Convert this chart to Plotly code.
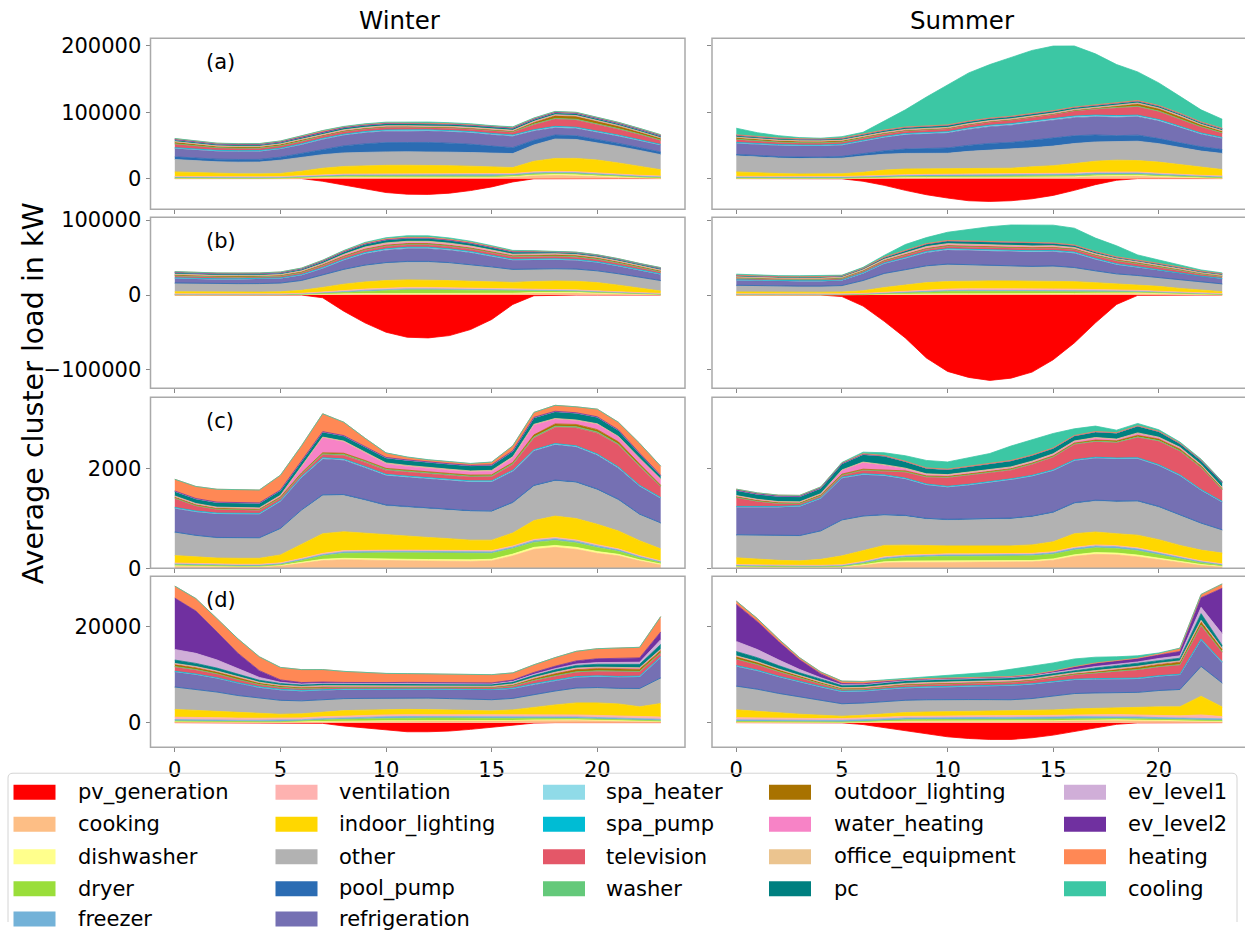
import plotly.graph_objects as go

# ---------------------------------------------------------------- data
HOURS = list(range(24))

SERIES = [
    "pv_generation", "cooking", "dishwasher", "dryer", "freezer",
    "ventilation", "indoor_lighting", "other", "pool_pump", "refrigeration",
    "spa_heater", "spa_pump", "television", "washer",
    "outdoor_lighting", "water_heating", "office_equipment", "pc",
    "ev_level1", "ev_level2", "heating", "cooling",
]

COLORS = {
    "pv_generation": "#ff0000", "cooking": "#fdbe85", "dishwasher": "#ffff8c",
    "dryer": "#9ade3a", "freezer": "#73b2d8", "ventilation": "#feb2b0",
    "indoor_lighting": "#ffd700", "other": "#b2b2b2", "pool_pump": "#2b6cb3",
    "refrigeration": "#7570b3", "spa_heater": "#90dbe8", "spa_pump": "#00bcd4",
    "television": "#e45768", "washer": "#64c97a", "outdoor_lighting": "#a87200",
    "water_heating": "#f783c6", "office_equipment": "#ebc48f", "pc": "#008080",
    "ev_level1": "#d0aed8", "ev_level2": "#7030a0", "heating": "#ff8855",
    "cooling": "#3cc7a4",
}

# cluster (a), winter
A_W = {
    "pv_generation": [0, 0, 0, 0, 0, 0, 0, -4000, -10000, -16000, -21000, -23500, -23800, -22000, -18000, -12500, -5000, -300, 0, 0, 0, 0, 0, 0],
    "cooking": [400, 300, 300, 300, 300, 400, 1000, 1800, 1800, 1600, 1500, 1600, 1700, 1600, 1500, 1600, 2500, 4500, 5000, 4500, 3000, 1800, 1000, 600],
    "dishwasher": [300, 200, 200, 150, 150, 150, 300, 600, 800, 700, 600, 600, 600, 600, 500, 500, 600, 900, 1200, 1400, 1300, 1000, 700, 400],
    "dryer": [300, 200, 100, 100, 100, 200, 500, 1000, 1500, 1800, 1900, 1900, 1900, 1800, 1700, 1600, 1600, 1700, 1700, 1600, 1400, 1100, 800, 500],
    "freezer": [1500, 1450, 1400, 1400, 1400, 1450, 1500, 1550, 1600, 1650, 1700, 1700, 1700, 1700, 1700, 1700, 1700, 1700, 1700, 1700, 1650, 1600, 1550, 1500],
    "ventilation": [800, 800, 800, 800, 800, 800, 900, 1000, 1100, 1200, 1300, 1300, 1300, 1300, 1300, 1300, 1300, 1400, 1400, 1300, 1200, 1100, 1000, 900],
    "indoor_lighting": [6800, 6000, 5000, 4600, 4400, 4800, 7000, 9700, 11500, 12500, 13000, 13000, 13000, 12500, 12000, 10500, 9000, 16000, 19400, 20000, 19500, 17000, 13500, 9500],
    "other": [18700, 18000, 17500, 17500, 17800, 20000, 20500, 20500, 20500, 20400, 20300, 20300, 20300, 20400, 20600, 20800, 21000, 24600, 29300, 28500, 26000, 25000, 24000, 22700],
    "pool_pump": [4000, 4000, 4000, 4000, 4000, 4500, 6000, 8000, 10500, 12500, 14000, 14000, 14000, 13500, 12500, 11000, 9000, 7000, 6000, 5500, 5000, 4500, 4000, 4000],
    "refrigeration": [12600, 12300, 12000, 12000, 12000, 12300, 13500, 15000, 16000, 16800, 17200, 17200, 17200, 17200, 17200, 17200, 17200, 14000, 11100, 11000, 11000, 10800, 10500, 10100],
    "spa_heater": [1000, 1000, 1000, 1000, 1000, 1000, 1100, 1200, 1300, 1400, 1500, 1500, 1500, 1500, 1500, 1500, 1500, 1500, 1500, 1500, 1400, 1300, 1200, 1100],
    "spa_pump": [300, 300, 300, 300, 300, 300, 300, 350, 400, 400, 400, 400, 400, 400, 400, 400, 400, 450, 500, 500, 450, 400, 350, 300],
    "television": [5500, 4500, 3800, 3500, 3500, 3500, 3500, 3500, 3500, 3500, 3500, 3500, 3500, 3600, 3700, 3800, 4000, 7500, 11000, 11000, 10000, 9000, 8000, 6000],
    "washer": [400, 300, 300, 300, 300, 300, 500, 800, 1000, 1000, 1000, 1000, 900, 900, 900, 900, 900, 1000, 1000, 1000, 900, 800, 600, 500],
    "outdoor_lighting": [2500, 2300, 2000, 2000, 2000, 2000, 1800, 1000, 500, 400, 400, 400, 400, 400, 400, 500, 800, 2500, 4000, 4000, 3800, 3500, 3000, 2700],
    "water_heating": [600, 500, 500, 500, 500, 600, 900, 1200, 1100, 1000, 900, 900, 900, 900, 900, 900, 1000, 1200, 1300, 1300, 1200, 1000, 800, 700],
    "office_equipment": [200, 200, 200, 200, 200, 200, 300, 400, 500, 500, 500, 500, 500, 500, 500, 500, 400, 400, 300, 300, 300, 300, 200, 200],
    "pc": [2500, 2400, 2400, 2400, 2400, 2400, 2500, 2700, 3000, 3100, 3200, 3200, 3200, 3200, 3100, 3000, 3000, 2900, 2800, 2800, 2700, 2600, 2500, 2500],
    "ev_level1": [300, 300, 200, 200, 200, 200, 200, 200, 200, 200, 200, 200, 200, 200, 200, 200, 200, 300, 300, 300, 300, 300, 300, 300],
    "ev_level2": [300, 250, 200, 200, 200, 200, 200, 200, 200, 200, 200, 200, 200, 200, 200, 200, 200, 250, 300, 300, 300, 300, 300, 300],
    "heating": [1200, 1000, 1000, 1000, 1000, 1200, 1500, 1500, 1200, 1000, 800, 700, 700, 700, 700, 800, 1000, 1200, 1200, 1200, 1200, 1200, 1200, 1200],
    "cooling": [300, 300, 300, 300, 300, 300, 300, 300, 500, 800, 1000, 1200, 1200, 1200, 1200, 1000, 800, 500, 300, 300, 300, 300, 300, 300],
}

# cluster (a), summer
A_S = {
    "pv_generation": [0, 0, 0, 0, 0, -300, -4000, -10100, -17700, -24300, -29300, -33400, -34400, -33400, -30400, -25300, -17700, -9100, -2500, 0, 0, 0, 0, 0],
    "cooking": [400, 300, 300, 300, 300, 400, 800, 1200, 1200, 1200, 1200, 1300, 1300, 1300, 1300, 1500, 2200, 3500, 4200, 3800, 2500, 1500, 900, 600],
    "dishwasher": [300, 200, 200, 150, 150, 150, 250, 500, 600, 600, 600, 600, 600, 600, 600, 600, 700, 900, 1100, 1300, 1200, 900, 600, 400],
    "dryer": [200, 150, 100, 100, 100, 150, 400, 800, 1200, 1400, 1500, 1500, 1500, 1500, 1500, 1500, 1500, 1500, 1400, 1300, 1100, 900, 600, 400],
    "freezer": [1800, 1800, 1750, 1750, 1750, 1750, 1800, 1900, 2000, 2100, 2200, 2300, 2300, 2400, 2400, 2400, 2400, 2400, 2300, 2300, 2200, 2100, 2000, 1900],
    "ventilation": [700, 700, 700, 700, 700, 700, 800, 900, 1000, 1100, 1200, 1300, 1400, 1400, 1500, 1500, 1500, 1500, 1400, 1300, 1200, 1000, 900, 800],
    "indoor_lighting": [6700, 5500, 4500, 4000, 3900, 4200, 5500, 7500, 8500, 8500, 8300, 8100, 8100, 8500, 10500, 12000, 14300, 16500, 17400, 17200, 16700, 14500, 12000, 9600],
    "other": [24300, 23800, 23500, 23200, 23200, 23500, 24500, 24000, 23500, 23200, 23200, 26000, 27800, 28300, 28800, 29500, 30300, 29000, 27900, 29200, 27800, 26000, 24500, 24300],
    "pool_pump": [2000, 2000, 2100, 2200, 2200, 2500, 3500, 5000, 6500, 7000, 8000, 9000, 10000, 10500, 11000, 11500, 11700, 10500, 9000, 9100, 7600, 7000, 6500, 5800],
    "refrigeration": [16700, 16700, 16700, 16700, 16700, 17000, 19000, 20000, 21500, 22000, 22500, 24000, 25300, 26000, 26500, 27000, 27300, 27500, 27800, 27800, 26500, 23000, 19000, 16700],
    "spa_heater": [1200, 1200, 1200, 1200, 1200, 1200, 1300, 1400, 1500, 1600, 1700, 1800, 1800, 1900, 1900, 2000, 2000, 2000, 2000, 1900, 1800, 1600, 1400, 1300],
    "spa_pump": [300, 300, 300, 300, 300, 300, 300, 350, 400, 400, 400, 450, 450, 450, 450, 450, 450, 450, 500, 500, 450, 400, 350, 300],
    "television": [4500, 4000, 3500, 3300, 3200, 3200, 3300, 3500, 3700, 3800, 4000, 4200, 4500, 5000, 5500, 6500, 7500, 9000, 11500, 12500, 12000, 11000, 9000, 6500],
    "washer": [400, 300, 300, 300, 300, 300, 500, 700, 800, 800, 800, 800, 800, 800, 800, 800, 800, 900, 900, 900, 800, 700, 600, 500],
    "outdoor_lighting": [2300, 2300, 2300, 2300, 2300, 2000, 1300, 700, 400, 300, 300, 300, 300, 300, 300, 300, 400, 800, 2000, 3500, 3500, 3200, 2800, 2500],
    "water_heating": [500, 400, 400, 400, 400, 500, 800, 1000, 900, 800, 800, 800, 800, 800, 800, 800, 900, 1000, 1100, 1100, 1000, 900, 700, 600],
    "office_equipment": [200, 200, 200, 200, 200, 200, 300, 400, 500, 500, 500, 500, 500, 500, 500, 500, 400, 400, 300, 300, 300, 300, 200, 200],
    "pc": [2500, 2400, 2400, 2400, 2400, 2400, 2500, 2700, 3000, 3100, 3200, 3200, 3200, 3200, 3100, 3000, 3000, 2900, 2800, 2800, 2700, 2600, 2500, 2500],
    "ev_level1": [300, 300, 200, 200, 200, 200, 200, 200, 200, 200, 200, 200, 200, 200, 200, 200, 200, 300, 300, 300, 300, 300, 300, 300],
    "ev_level2": [300, 250, 200, 200, 200, 200, 200, 200, 200, 200, 200, 200, 200, 200, 200, 200, 200, 250, 300, 300, 300, 300, 300, 300],
    "heating": [400, 400, 400, 400, 400, 400, 300, 300, 200, 200, 200, 200, 200, 200, 200, 200, 200, 200, 200, 300, 300, 300, 300, 400],
    "cooling": [10000, 6000, 3500, 1500, 800, 2000, 2300, 13000, 25900, 44000, 60700, 72600, 80700, 89100, 95200, 97400, 92000, 76600, 57600, 43200, 34000, 25500, 18200, 13700],
}

# cluster (b), winter
B_W = {
    "pv_generation": [0, 0, 0, 0, 0, 0, 0, -3600, -21500, -37100, -49600, -56300, -57200, -54100, -46000, -32600, -12500, -900, 0, 0, 0, 0, 0, 0],
    "cooking": [200, 150, 150, 150, 150, 200, 500, 1000, 1500, 1500, 1500, 1600, 1600, 1500, 1500, 1600, 2000, 2800, 3200, 2800, 2000, 1200, 700, 400],
    "dishwasher": [150, 100, 100, 100, 100, 100, 150, 300, 400, 400, 400, 400, 400, 400, 400, 400, 400, 500, 600, 700, 600, 500, 300, 200],
    "dryer": [100, 100, 50, 50, 50, 100, 300, 800, 2000, 3500, 4500, 5000, 5000, 4800, 4500, 4000, 3500, 2500, 1800, 1500, 1200, 900, 500, 300],
    "freezer": [700, 700, 700, 700, 700, 700, 750, 800, 900, 1000, 1100, 1200, 1200, 1200, 1200, 1100, 1100, 1000, 1000, 900, 900, 800, 800, 700],
    "ventilation": [500, 500, 500, 500, 500, 500, 600, 800, 1200, 1600, 1900, 2000, 2000, 1900, 1800, 1600, 1400, 1200, 1100, 1000, 900, 800, 700, 600],
    "indoor_lighting": [2800, 2600, 2500, 2500, 2500, 2800, 4000, 6500, 8500, 9500, 10000, 10000, 10000, 9500, 9000, 8500, 8500, 10000, 11000, 11500, 11000, 9000, 6000, 3200],
    "other": [11100, 10800, 10600, 10600, 10700, 11000, 12500, 15500, 19000, 21500, 23000, 23700, 23700, 23000, 21500, 19500, 16500, 16000, 15600, 15500, 15000, 14500, 14000, 13400],
    "pool_pump": [600, 600, 600, 600, 600, 600, 700, 800, 900, 1000, 1000, 1000, 1000, 1000, 1000, 900, 900, 800, 800, 800, 700, 700, 600, 600],
    "refrigeration": [6000, 5800, 5700, 5700, 5700, 6000, 7000, 9000, 12000, 15000, 16500, 17000, 17000, 16500, 15500, 14000, 12000, 12000, 12000, 11500, 11000, 10000, 9000, 8000],
    "spa_heater": [700, 700, 700, 700, 700, 700, 800, 900, 1100, 1300, 1400, 1500, 1500, 1400, 1300, 1200, 1100, 1000, 1000, 1000, 900, 800, 800, 700],
    "spa_pump": [200, 200, 200, 200, 200, 200, 200, 250, 300, 350, 400, 400, 400, 400, 400, 350, 300, 300, 300, 300, 250, 250, 200, 200],
    "television": [2500, 2300, 2200, 2100, 2100, 2200, 2300, 2500, 2700, 2900, 3000, 3000, 3000, 3000, 3000, 3000, 3000, 3000, 3000, 3000, 3000, 3000, 2800, 2600],
    "washer": [300, 250, 250, 250, 250, 300, 400, 700, 1000, 1300, 1500, 1500, 1500, 1400, 1300, 1100, 1000, 900, 800, 700, 600, 500, 400, 300],
    "outdoor_lighting": [1200, 1200, 1200, 1200, 1200, 1100, 900, 600, 400, 400, 400, 400, 400, 400, 400, 500, 800, 1200, 1500, 1500, 1500, 1400, 1300, 1200],
    "water_heating": [700, 600, 600, 600, 600, 700, 900, 1200, 1400, 1500, 1500, 1500, 1500, 1400, 1300, 1200, 1100, 1000, 1000, 1000, 900, 800, 700, 700],
    "office_equipment": [200, 200, 200, 200, 200, 200, 300, 600, 1000, 1300, 1500, 1500, 1500, 1400, 1300, 1100, 900, 700, 500, 400, 300, 300, 200, 200],
    "pc": [2000, 2000, 2000, 2000, 2000, 2000, 2200, 2600, 3200, 3800, 4000, 4000, 4000, 3900, 3700, 3400, 3000, 2600, 2200, 2100, 2000, 2000, 2000, 2000],
    "ev_level1": [220, 210, 200, 200, 200, 200, 190, 180, 180, 180, 180, 180, 180, 180, 180, 180, 180, 190, 200, 210, 220, 220, 220, 220],
    "ev_level2": [200, 200, 200, 200, 200, 200, 200, 200, 200, 200, 200, 200, 200, 200, 200, 200, 200, 200, 200, 200, 200, 200, 200, 200],
    "heating": [800, 800, 800, 800, 800, 900, 1000, 1100, 1100, 1000, 1000, 1000, 900, 900, 900, 900, 900, 800, 500, 500, 500, 600, 700, 800],
    "cooling": [100, 100, 100, 100, 100, 100, 100, 200, 500, 1000, 1500, 2000, 2000, 1800, 1500, 1200, 800, 500, 300, 200, 100, 100, 100, 100],
}

# cluster (b), summer
B_S = {
    "pv_generation": [0, 0, 0, 0, 0, -2000, -14700, -35000, -57200, -84000, -101900, -109900, -113900, -110900, -102800, -86300, -63900, -37100, -12500, -400, 0, 0, 0, 0],
    "cooking": [200, 150, 150, 150, 150, 200, 400, 800, 1100, 1200, 1200, 1200, 1200, 1200, 1200, 1300, 1700, 2200, 2500, 2200, 1600, 1000, 600, 300],
    "dishwasher": [150, 100, 100, 100, 100, 100, 150, 250, 350, 400, 400, 400, 400, 400, 400, 400, 400, 500, 600, 700, 600, 500, 300, 200],
    "dryer": [100, 80, 50, 50, 50, 80, 300, 800, 1800, 2800, 3200, 3400, 3400, 3300, 3200, 3000, 2600, 2000, 1500, 1200, 1000, 700, 400, 200],
    "freezer": [800, 800, 800, 800, 800, 800, 850, 900, 1000, 1100, 1200, 1300, 1300, 1300, 1300, 1300, 1200, 1200, 1100, 1100, 1000, 1000, 900, 800],
    "ventilation": [400, 400, 400, 400, 400, 400, 500, 800, 1200, 1600, 2000, 2200, 2300, 2300, 2300, 2200, 2000, 1600, 1300, 1100, 900, 700, 600, 500],
    "indoor_lighting": [2500, 2400, 2300, 2300, 2300, 2500, 3500, 6500, 8000, 9500, 10000, 10200, 10300, 10300, 10400, 10500, 10000, 9000, 8000, 7500, 6500, 5000, 3500, 2500],
    "other": [8300, 7900, 7600, 7500, 7500, 8000, 13000, 18000, 19500, 21500, 22300, 21000, 20000, 19000, 18500, 19200, 18000, 15000, 12500, 11500, 11000, 10500, 10000, 9800],
    "pool_pump": [600, 600, 600, 600, 600, 600, 700, 800, 900, 1000, 1000, 1000, 1000, 1000, 1000, 1000, 900, 900, 800, 800, 700, 700, 600, 600],
    "refrigeration": [6700, 6600, 6600, 6600, 6600, 6800, 9500, 13000, 15000, 17500, 18800, 18500, 18500, 19000, 19000, 19000, 19000, 15000, 12100, 10500, 9500, 8500, 7500, 6700],
    "spa_heater": [500, 500, 500, 500, 500, 500, 600, 800, 1000, 1200, 1300, 1400, 1400, 1400, 1400, 1300, 1200, 1100, 1000, 900, 800, 700, 600, 500],
    "spa_pump": [200, 200, 200, 200, 200, 200, 200, 250, 300, 350, 400, 400, 400, 400, 400, 350, 300, 300, 300, 300, 250, 250, 200, 200],
    "television": [2000, 1800, 1700, 1700, 1700, 1800, 2000, 2300, 2500, 2700, 2800, 2800, 2800, 2800, 2800, 2900, 3000, 3300, 3600, 3500, 3300, 3000, 2600, 2200],
    "washer": [250, 200, 200, 200, 200, 250, 350, 600, 900, 1100, 1200, 1200, 1200, 1100, 1100, 1000, 900, 800, 700, 600, 500, 400, 300, 250],
    "outdoor_lighting": [1000, 1000, 1000, 1000, 1000, 900, 700, 400, 300, 300, 300, 300, 300, 300, 300, 300, 500, 800, 1200, 1300, 1300, 1200, 1100, 1000],
    "water_heating": [500, 400, 400, 400, 400, 500, 700, 1000, 1100, 1200, 1200, 1200, 1200, 1100, 1100, 1000, 900, 800, 800, 800, 700, 600, 500, 500],
    "office_equipment": [200, 200, 200, 200, 200, 200, 300, 600, 1000, 1200, 1300, 1300, 1300, 1300, 1200, 1100, 900, 700, 500, 400, 300, 300, 200, 200],
    "pc": [1700, 1700, 1700, 1700, 1700, 1700, 1900, 2400, 3000, 3500, 3700, 3700, 3700, 3600, 3500, 3200, 2800, 2400, 2000, 1900, 1800, 1800, 1700, 1700],
    "ev_level1": [150, 150, 150, 150, 150, 150, 150, 150, 150, 150, 150, 150, 150, 150, 150, 150, 150, 150, 150, 150, 150, 150, 150, 150],
    "ev_level2": [150, 150, 140, 140, 140, 140, 140, 140, 140, 140, 140, 140, 140, 140, 140, 140, 140, 150, 150, 150, 150, 150, 150, 150],
    "heating": [200, 200, 200, 200, 200, 200, 200, 200, 200, 200, 200, 200, 200, 200, 200, 200, 200, 200, 200, 200, 200, 200, 200, 200],
    "cooling": [1300, 1000, 900, 900, 900, 500, 800, 2200, 8000, 8000, 11000, 16000, 20000, 23200, 23700, 23700, 22400, 17900, 14700, 6700, 4500, 2300, 1400, 900],
}

# cluster (c), winter
C_W = {
    "pv_generation": [0, 0, 0, 0, 0, 0, 0, 0, 0, 0, 0, 0, 0, 0, 0, 0, 0, 0, 0, 0, 0, 0, 0, 0],
    "cooking": [40, 35, 30, 30, 30, 50, 100, 155, 170, 160, 150, 150, 145, 140, 140, 150, 250, 380, 420, 380, 300, 250, 150, 70],
    "dishwasher": [10, 8, 5, 5, 5, 8, 15, 25, 30, 30, 30, 30, 30, 30, 30, 30, 35, 40, 40, 40, 35, 30, 20, 15],
    "dryer": [20, 15, 10, 10, 10, 15, 40, 70, 100, 120, 130, 130, 130, 130, 130, 120, 110, 100, 100, 90, 80, 60, 40, 30],
    "freezer": [20, 20, 20, 20, 20, 20, 25, 25, 30, 30, 30, 30, 30, 30, 30, 30, 30, 35, 35, 35, 35, 30, 25, 20],
    "ventilation": [15, 15, 15, 15, 15, 15, 20, 25, 25, 25, 25, 25, 25, 25, 25, 25, 25, 25, 25, 25, 25, 20, 20, 15],
    "indoor_lighting": [150, 135, 125, 120, 120, 160, 280, 395, 380, 340, 300, 280, 260, 240, 210, 210, 260, 380, 430, 430, 410, 360, 300, 240],
    "other": [460, 420, 400, 400, 400, 520, 680, 765, 730, 660, 590, 580, 575, 575, 575, 570, 600, 690, 705, 720, 690, 620, 520, 510],
    "pool_pump": [15, 15, 15, 15, 15, 15, 15, 20, 20, 20, 20, 20, 20, 20, 20, 20, 20, 20, 20, 20, 20, 20, 15, 15],
    "refrigeration": [475, 470, 470, 470, 470, 540, 650, 720, 690, 640, 590, 585, 580, 578, 575, 580, 620, 690, 710, 700, 680, 625, 560, 490],
    "spa_heater": [15, 15, 15, 15, 15, 15, 15, 20, 20, 20, 20, 20, 20, 20, 20, 20, 20, 20, 20, 20, 20, 20, 15, 15],
    "spa_pump": [5, 5, 5, 5, 5, 5, 5, 5, 5, 5, 5, 5, 5, 5, 5, 5, 5, 5, 5, 5, 5, 5, 5, 5],
    "television": [180, 100, 70, 60, 60, 45, 45, 60, 70, 80, 80, 80, 75, 75, 75, 80, 110, 235, 325, 360, 420, 440, 380, 215],
    "washer": [10, 10, 10, 10, 10, 10, 15, 20, 25, 25, 25, 25, 25, 25, 25, 25, 25, 25, 25, 25, 25, 20, 15, 10],
    "outdoor_lighting": [15, 15, 15, 15, 15, 15, 15, 20, 20, 15, 15, 15, 15, 15, 15, 15, 20, 40, 45, 45, 45, 45, 35, 20],
    "water_heating": [20, 20, 20, 20, 20, 30, 120, 305, 230, 150, 90, 75, 70, 65, 65, 70, 100, 200, 100, 80, 110, 100, 110, 120],
    "office_equipment": [5, 5, 5, 5, 5, 5, 8, 10, 15, 20, 20, 20, 20, 20, 20, 20, 15, 12, 10, 10, 8, 8, 6, 5],
    "pc": [90, 90, 90, 90, 90, 95, 110, 100, 100, 100, 100, 100, 100, 100, 100, 100, 110, 130, 135, 135, 130, 120, 90, 65],
    "ev_level1": [5, 5, 5, 5, 5, 5, 5, 5, 5, 5, 5, 5, 5, 5, 5, 5, 5, 5, 5, 5, 5, 5, 5, 5],
    "ev_level2": [5, 5, 5, 5, 5, 5, 5, 5, 5, 5, 5, 5, 5, 5, 5, 5, 5, 5, 5, 5, 5, 5, 5, 5],
    "heating": [236, 243, 260, 260, 260, 300, 300, 360, 270, 170, 90, 55, 45, 40, 35, 55, 100, 100, 120, 120, 155, 155, 200, 185],
    "cooling": [0, 0, 0, 0, 0, 0, 0, 0, 0, 0, 3, 5, 5, 5, 5, 3, 0, 0, 0, 0, 0, 0, 0, 0],
}

# cluster (c), summer
C_S = {
    "pv_generation": [0, 0, 0, 0, 0, 0, 0, 0, 0, 0, 0, 0, 0, 0, 0, 0, 0, 0, 0, 0, 0, 0, 0, 0],
    "cooking": [25, 20, 18, 18, 18, 25, 60, 110, 120, 120, 120, 120, 120, 120, 130, 160, 240, 280, 270, 230, 170, 110, 60, 30],
    "dishwasher": [8, 6, 5, 5, 5, 6, 12, 20, 25, 25, 25, 25, 25, 25, 25, 28, 30, 35, 35, 35, 30, 25, 15, 10],
    "dryer": [10, 8, 6, 6, 6, 8, 25, 50, 70, 90, 95, 95, 95, 95, 95, 95, 95, 95, 90, 85, 70, 55, 35, 15],
    "freezer": [20, 20, 20, 20, 20, 20, 25, 30, 30, 30, 30, 30, 30, 30, 30, 30, 35, 40, 40, 40, 35, 30, 25, 25],
    "ventilation": [10, 10, 10, 10, 10, 10, 15, 20, 20, 20, 20, 20, 20, 20, 20, 20, 20, 20, 20, 20, 20, 15, 15, 10],
    "indoor_lighting": [137, 120, 100, 90, 120, 180, 210, 230, 200, 170, 160, 160, 160, 160, 170, 200, 275, 260, 240, 255, 250, 225, 215, 215],
    "other": [450, 470, 485, 495, 560, 710, 690, 600, 580, 530, 515, 520, 530, 540, 560, 580, 605, 620, 640, 675, 650, 605, 530, 455],
    "pool_pump": [15, 15, 15, 15, 15, 15, 15, 20, 20, 20, 20, 20, 20, 20, 20, 20, 20, 20, 20, 20, 20, 20, 15, 15],
    "refrigeration": [555, 560, 570, 585, 650, 840, 830, 780, 730, 670, 645, 680, 720, 770, 800, 830, 845, 845, 845, 845, 820, 775, 660, 555],
    "spa_heater": [10, 10, 10, 10, 10, 15, 15, 15, 15, 15, 15, 15, 15, 15, 15, 15, 15, 15, 15, 15, 15, 15, 10, 10],
    "spa_pump": [5, 5, 5, 5, 5, 5, 5, 5, 5, 5, 5, 5, 5, 5, 5, 5, 5, 5, 5, 5, 5, 5, 5, 5],
    "television": [175, 100, 55, 35, 35, 35, 65, 65, 115, 135, 170, 180, 180, 175, 220, 250, 305, 310, 305, 405, 470, 475, 440, 235],
    "washer": [8, 8, 8, 8, 8, 10, 12, 15, 15, 15, 15, 15, 15, 15, 15, 15, 15, 15, 15, 15, 15, 12, 10, 8],
    "outdoor_lighting": [15, 15, 15, 15, 15, 15, 15, 15, 15, 15, 15, 15, 15, 15, 15, 15, 15, 20, 25, 30, 30, 30, 25, 20],
    "water_heating": [15, 15, 15, 15, 20, 80, 135, 100, 40, 25, 20, 20, 20, 20, 20, 25, 30, 40, 25, 40, 30, 30, 20, 15],
    "office_equipment": [5, 5, 5, 5, 5, 5, 8, 10, 15, 15, 15, 15, 15, 15, 15, 15, 12, 12, 10, 10, 8, 8, 6, 5],
    "pc": [100, 100, 100, 100, 105, 120, 150, 170, 130, 110, 100, 110, 115, 120, 115, 110, 100, 110, 120, 135, 110, 70, 80, 95],
    "ev_level1": [5, 5, 5, 5, 5, 5, 5, 5, 5, 5, 5, 5, 5, 5, 5, 5, 5, 5, 5, 5, 5, 5, 5, 5],
    "ev_level2": [5, 5, 5, 5, 5, 5, 5, 5, 5, 5, 5, 5, 5, 5, 5, 5, 5, 5, 5, 5, 5, 5, 5, 5],
    "heating": [20, 20, 20, 20, 20, 15, 10, 5, 0, 0, 0, 0, 0, 0, 0, 0, 0, 0, 0, 0, 0, 5, 10, 15],
    "cooling": [0, 0, 0, 0, 0, 5, 30, 55, 110, 150, 145, 170, 200, 290, 300, 290, 135, 110, 50, 45, 30, 20, 10, 0],
}

# cluster (d), winter
D_W = {
    "pv_generation": [0, 0, 0, 0, 0, 0, 0, -150, -700, -1050, -1550, -1900, -1900, -1750, -1400, -1000, -500, -100, 0, 0, 0, 0, 0, 0],
    "cooking": [150, 120, 100, 100, 100, 100, 150, 250, 300, 300, 300, 300, 300, 300, 300, 300, 350, 450, 500, 450, 400, 350, 300, 200],
    "dishwasher": [80, 60, 50, 50, 50, 50, 60, 80, 100, 100, 100, 100, 100, 100, 100, 100, 100, 120, 150, 150, 140, 120, 100, 80],
    "dryer": [100, 80, 60, 50, 50, 50, 100, 200, 300, 400, 500, 550, 550, 550, 500, 450, 400, 350, 300, 250, 200, 150, 120, 100],
    "freezer": [320, 310, 300, 300, 300, 300, 300, 310, 320, 320, 330, 330, 330, 330, 330, 320, 320, 320, 320, 320, 320, 320, 320, 320],
    "ventilation": [500, 480, 460, 440, 420, 400, 380, 380, 380, 380, 380, 380, 380, 380, 380, 380, 380, 400, 420, 440, 450, 460, 470, 480],
    "indoor_lighting": [1600, 1500, 1300, 1100, 950, 850, 850, 1000, 1100, 1100, 1100, 1100, 1050, 1000, 950, 900, 1100, 1600, 2000, 2500, 2600, 2500, 2000, 2800],
    "other": [4570, 4300, 4000, 3500, 3100, 2800, 2600, 2500, 2400, 2350, 2300, 2300, 2300, 2250, 2250, 2230, 2300, 2500, 2800, 3000, 3100, 3140, 3700, 5240],
    "pool_pump": [100, 100, 100, 100, 100, 100, 100, 100, 100, 100, 100, 100, 100, 100, 100, 100, 100, 100, 100, 100, 100, 100, 100, 100],
    "refrigeration": [3100, 3000, 2800, 2500, 2200, 2100, 2000, 1900, 1850, 1800, 1770, 1770, 1800, 1850, 1900, 2000, 2000, 2100, 2100, 2200, 2250, 2300, 2400, 4200],
    "spa_heater": [150, 150, 150, 150, 150, 150, 150, 150, 120, 100, 100, 100, 100, 100, 100, 100, 120, 150, 150, 150, 150, 150, 150, 150],
    "spa_pump": [30, 30, 30, 30, 30, 30, 30, 30, 30, 30, 30, 30, 30, 30, 30, 30, 30, 30, 30, 30, 30, 30, 30, 30],
    "television": [900, 850, 750, 600, 450, 400, 350, 300, 280, 280, 280, 280, 280, 280, 280, 300, 400, 600, 800, 900, 950, 950, 900, 800],
    "washer": [80, 70, 60, 50, 50, 50, 60, 80, 80, 80, 80, 80, 80, 80, 80, 80, 80, 100, 100, 100, 100, 100, 90, 80],
    "outdoor_lighting": [400, 400, 380, 350, 300, 250, 200, 150, 100, 80, 80, 80, 80, 80, 80, 100, 150, 300, 400, 450, 450, 450, 450, 400],
    "water_heating": [200, 180, 160, 140, 120, 120, 150, 200, 150, 130, 120, 120, 120, 120, 120, 120, 150, 200, 250, 250, 250, 250, 250, 250],
    "office_equipment": [50, 50, 50, 50, 50, 50, 60, 70, 80, 80, 80, 80, 80, 80, 80, 80, 80, 80, 70, 60, 60, 60, 50, 50],
    "pc": [700, 650, 600, 500, 400, 350, 350, 380, 380, 380, 380, 380, 380, 380, 380, 380, 400, 450, 500, 550, 600, 650, 700, 1000],
    "ev_level1": [2200, 2100, 1700, 1200, 600, 250, 150, 120, 100, 100, 100, 100, 100, 100, 100, 100, 150, 200, 250, 300, 350, 400, 450, 1000],
    "ev_level2": [10700, 8800, 5800, 3200, 1400, 500, 300, 250, 200, 200, 200, 200, 200, 200, 200, 200, 250, 400, 500, 650, 800, 900, 900, 1600],
    "heating": [2500, 2600, 2800, 3000, 2900, 2600, 2700, 2600, 2300, 2100, 1900, 1800, 1800, 1800, 1800, 1700, 1500, 1600, 1800, 2000, 2100, 2100, 2200, 3200],
    "cooling": [0, 0, 0, 0, 0, 0, 0, 0, 0, 0, 20, 30, 30, 30, 30, 20, 0, 0, 0, 0, 0, 0, 0, 0],
}

# cluster (d), summer
D_S = {
    "pv_generation": [0, 0, 0, 0, 0, -50, -400, -1050, -1750, -2450, -2950, -3300, -3500, -3500, -3150, -2600, -1900, -1050, -350, -50, 0, 0, 0, 0],
    "cooking": [100, 80, 60, 60, 60, 60, 100, 200, 250, 250, 250, 250, 250, 250, 250, 300, 400, 450, 450, 400, 350, 300, 300, 200],
    "dishwasher": [60, 50, 40, 40, 40, 40, 50, 70, 90, 90, 90, 90, 90, 90, 90, 100, 110, 130, 140, 140, 130, 120, 110, 80],
    "dryer": [80, 60, 50, 40, 40, 40, 80, 150, 250, 300, 350, 350, 350, 350, 350, 350, 350, 300, 280, 250, 200, 180, 200, 150],
    "freezer": [350, 340, 330, 330, 330, 330, 340, 350, 360, 370, 380, 390, 390, 400, 400, 400, 400, 400, 390, 380, 370, 360, 400, 360],
    "ventilation": [450, 430, 410, 390, 380, 370, 360, 360, 360, 360, 370, 370, 380, 380, 380, 390, 400, 410, 420, 430, 440, 450, 600, 480],
    "indoor_lighting": [1630, 1400, 1100, 900, 700, 500, 600, 700, 800, 850, 850, 850, 880, 900, 950, 1100, 1200, 1300, 1400, 1600, 1800, 1900, 3900, 2000],
    "other": [4830, 4500, 4000, 3500, 3000, 2500, 2450, 2450, 2450, 2450, 2450, 2400, 2350, 2300, 2500, 2800, 3100, 3100, 3050, 3000, 3300, 3500, 6100, 4900],
    "pool_pump": [100, 100, 100, 100, 100, 100, 100, 100, 100, 100, 100, 100, 100, 100, 100, 100, 100, 100, 100, 100, 100, 100, 100, 100],
    "refrigeration": [4100, 3800, 3400, 3000, 2700, 2450, 2400, 2450, 2500, 2500, 2500, 2600, 2750, 2900, 2900, 2850, 2800, 2800, 2800, 2800, 2900, 3000, 5500, 4200],
    "spa_heater": [150, 150, 150, 150, 150, 150, 150, 150, 150, 150, 150, 150, 150, 150, 150, 150, 150, 150, 150, 150, 150, 150, 150, 150],
    "spa_pump": [30, 30, 30, 30, 30, 30, 30, 30, 30, 30, 30, 30, 30, 30, 30, 30, 30, 30, 30, 30, 30, 30, 30, 30],
    "television": [1300, 1100, 900, 700, 500, 300, 300, 350, 400, 450, 500, 500, 500, 500, 600, 750, 900, 1100, 1400, 1700, 1800, 1900, 2800, 2000],
    "washer": [80, 70, 60, 50, 50, 50, 60, 80, 100, 100, 100, 100, 100, 100, 100, 100, 100, 100, 100, 100, 100, 100, 150, 80],
    "outdoor_lighting": [450, 420, 380, 330, 280, 220, 150, 100, 80, 80, 80, 80, 80, 80, 80, 80, 120, 200, 300, 400, 450, 500, 600, 500],
    "water_heating": [150, 130, 110, 100, 90, 90, 120, 150, 150, 150, 150, 150, 150, 150, 150, 150, 160, 180, 200, 200, 200, 200, 300, 200],
    "office_equipment": [50, 50, 50, 50, 50, 50, 60, 80, 100, 120, 130, 130, 130, 130, 120, 110, 90, 80, 70, 60, 60, 60, 60, 50],
    "pc": [900, 800, 700, 600, 550, 500, 480, 480, 500, 500, 500, 500, 500, 500, 500, 500, 500, 550, 580, 600, 580, 560, 1400, 600],
    "ev_level1": [2100, 1700, 1200, 700, 300, 120, 100, 100, 100, 100, 100, 100, 100, 100, 100, 120, 200, 300, 300, 300, 400, 500, 1300, 2400],
    "ev_level2": [7700, 5800, 3800, 2000, 800, 250, 150, 150, 150, 150, 150, 150, 150, 150, 200, 300, 500, 700, 700, 700, 700, 900, 2000, 9500],
    "heating": [700, 650, 550, 450, 400, 500, 500, 300, 150, 80, 50, 50, 50, 50, 50, 50, 50, 50, 50, 80, 250, 700, 700, 900],
    "cooling": [0, 0, 0, 0, 0, 0, 0, 100, 200, 300, 600, 800, 1000, 1500, 1700, 1700, 1600, 1200, 800, 500, 200, 0, 0, 0],
}

ROWS = [("(a)", A_W, A_S), ("(b)", B_W, B_S), ("(c)", C_W, C_S), ("(d)", D_W, D_S)]
SEASONS = ["Winter", "Summer"]
Y_TICKS = [[0, 100000, 200000], [-100000, 0, 100000], [0, 2000], [0, 20000]]
X_TICKS = [0, 5, 10, 15, 20]

# ---------------------------------------------------------------- layout geometry (pixels)
W, H = 1245, 934
FONT = "DejaVu Sans"
COL_PX = [(150.5, 685.0), (712.0, 1245.0)]
ROW_PX = [(29.9, 204.8), (213.0, 387.9), (397.1, 572.1), (580.2, 755.2)]
PX_PER_HOUR = (685.0 - 150.5) / 25.3
FRAME = "#a9a9a9"
TITLE_X = [400.0, 962.0]


def fx(px):
    return px / W


def fy(py):
    return 1 - py / H


def fmt_tick(v):
    return ("\u2212" + str(-v)) if v < 0 else str(v)


fig = go.Figure()
layout = dict(
    width=W, height=H,
    margin=dict(l=0, r=0, t=0, b=0),
    paper_bgcolor="white", plot_bgcolor="white",
    showlegend=False,
    font=dict(family=FONT, color="black"),
    shapes=[], annotations=[],
)

for r, (tag, *panels) in enumerate(ROWS):
    # shared y-limits across the row, autoscaled like a stacked area chart
    tops, bottoms = [], []
    for d in panels:
        tops.append(max(sum(d[s][h] for s in SERIES[1:]) for h in HOURS))
        bottoms.append(min(d["pv_generation"]))
    hi, lo = max(tops), min(bottoms + [0])
    pad = 0.05 * (hi - lo)
    y_range = [lo - pad if lo < 0 else 0, hi + pad]

    for c, d in enumerate(panels):
        k = r * 2 + c
        sid = "" if k == 0 else str(k + 1)
        xa, ya = "x" + sid, "y" + sid
        x0, x1 = COL_PX[c]
        y0, y1 = ROW_PX[r]

        # PV generation drawn below zero
        fig.add_trace(go.Scatter(
            x=HOURS, y=d["pv_generation"], mode="lines", fill="tozeroy",
            line=dict(color=COLORS["pv_generation"], width=0.8),
            fillcolor=COLORS["pv_generation"], xaxis=xa, yaxis=ya,
            name="pv_generation", hoverinfo="skip",
        ))
        # end-use loads stacked above zero
        for s in SERIES[1:]:
            fig.add_trace(go.Scatter(
                x=HOURS, y=d[s], mode="lines", stackgroup=f"load{k}",
                line=dict(color=COLORS[s], width=0.8),
                fillcolor=COLORS[s], xaxis=xa, yaxis=ya,
                name=s, hoverinfo="skip",
            ))

        x_range = [-1.15, -1.15 + (x1 - x0) / PX_PER_HOUR]
        layout["xaxis" + sid] = dict(
            domain=[fx(x0), fx(x1)], range=x_range, anchor=ya,
            tickvals=X_TICKS, ticks="outside", ticklen=4, tickwidth=1,
            tickcolor="#888888", showticklabels=(r == 3),
            tickfont=dict(family=FONT, size=21, color="black"),
            showgrid=False, zeroline=False, showline=False,
        )
        layout["yaxis" + sid] = dict(
            domain=[fy(y1), fy(y0)], range=y_range, anchor=xa,
            tickvals=Y_TICKS[r], ticktext=[fmt_tick(v) for v in Y_TICKS[r]],
            ticks="outside", ticklen=4, tickwidth=1, tickcolor="#888888",
            showticklabels=(c == 0),
            tickfont=dict(family=FONT, size=21, color="black"),
            showgrid=False, zeroline=False, showline=False,
        )

        # axes frame; the right column is open on the page edge
        if c == 0:
            path = (f"M {fx(x0)},{fy(y0)} L {fx(x1)},{fy(y0)} L {fx(x1)},{fy(y1)} "
                    f"L {fx(x0)},{fy(y1)} Z")
        else:
            path = (f"M {fx(x1)},{fy(y0)} L {fx(x0)},{fy(y0)} L {fx(x0)},{fy(y1)} "
                    f"L {fx(x1)},{fy(y1)}")
        layout["shapes"].append(dict(
            type="path", xref="paper", yref="paper", path=path,
            line=dict(color=FRAME, width=1.5), fillcolor="rgba(0,0,0,0)",
            layer="above",
        ))

        if c == 0:
            layout["annotations"].append(dict(
                text=tag, xref=xa + " domain", yref=ya + " domain",
                x=0.1, y=0.78, xanchor="left", yanchor="bottom",
                showarrow=False, font=dict(family=FONT, size=21, color="black"),
            ))

# season titles
for c, name in enumerate(SEASONS):
    layout["annotations"].append(dict(
        text=name, xref="paper", yref="paper",
        x=fx(TITLE_X[c]), y=fy(12), xanchor="center", yanchor="middle",
        showarrow=False, font=dict(family=FONT, size=24.5, color="black"),
    ))

# shared y-axis label
layout["annotations"].append(dict(
    text="Average cluster load in kW", xref="paper", yref="paper",
    x=fx(33), y=fy(393), xanchor="center", yanchor="middle", textangle=-90,
    showarrow=False, font=dict(family=FONT, size=28.5, color="black"),
))

# legend: five columns filled top to bottom
LEG_SWATCH_X = [13.5, 275.5, 543.0, 769.0, 1064.0]
LEG_TEXT_X = [75.5, 337.0, 604.0, 832.0, 1126.0]
LEG_ROW_Y = [801.2, 834.0, 867.2, 899.9, 931.0]
LEG_COL_SIZES = [5, 5, 4, 4, 4]

lx0, lx1, ly0, rad = 8.0, 1237.0, 781.8, 5.0
layout["shapes"].append(dict(
    type="path", xref="paper", yref="paper",
    path=(f"M {fx(lx0)},0 L {fx(lx0)},{fy(ly0 + rad)} "
          f"Q {fx(lx0)},{fy(ly0)} {fx(lx0 + rad)},{fy(ly0)} "
          f"L {fx(lx1 - rad)},{fy(ly0)} Q {fx(lx1)},{fy(ly0)} {fx(lx1)},{fy(ly0 + rad)} "
          f"L {fx(lx1)},0"),
    line=dict(color="#d4d4d4", width=1), fillcolor="rgba(0,0,0,0)",
))

idx = 0
for col, n in enumerate(LEG_COL_SIZES):
    for row in range(n):
        s = SERIES[idx]
        idx += 1
        yc = LEG_ROW_Y[row]
        layout["shapes"].append(dict(
            type="rect", xref="paper", yref="paper",
            x0=fx(LEG_SWATCH_X[col]), x1=fx(LEG_SWATCH_X[col] + 42),
            y0=fy(yc + 7.7), y1=fy(yc - 7.7),
            line=dict(width=0), fillcolor=COLORS[s],
        ))
        layout["annotations"].append(dict(
            text=s, xref="paper", yref="paper",
            x=fx(LEG_TEXT_X[col]), y=fy(yc), xanchor="left", yanchor="middle",
            showarrow=False, font=dict(family=FONT, size=21, color="black"),
        ))

fig.update_layout(**layout)
fig.write_html("out.html")
